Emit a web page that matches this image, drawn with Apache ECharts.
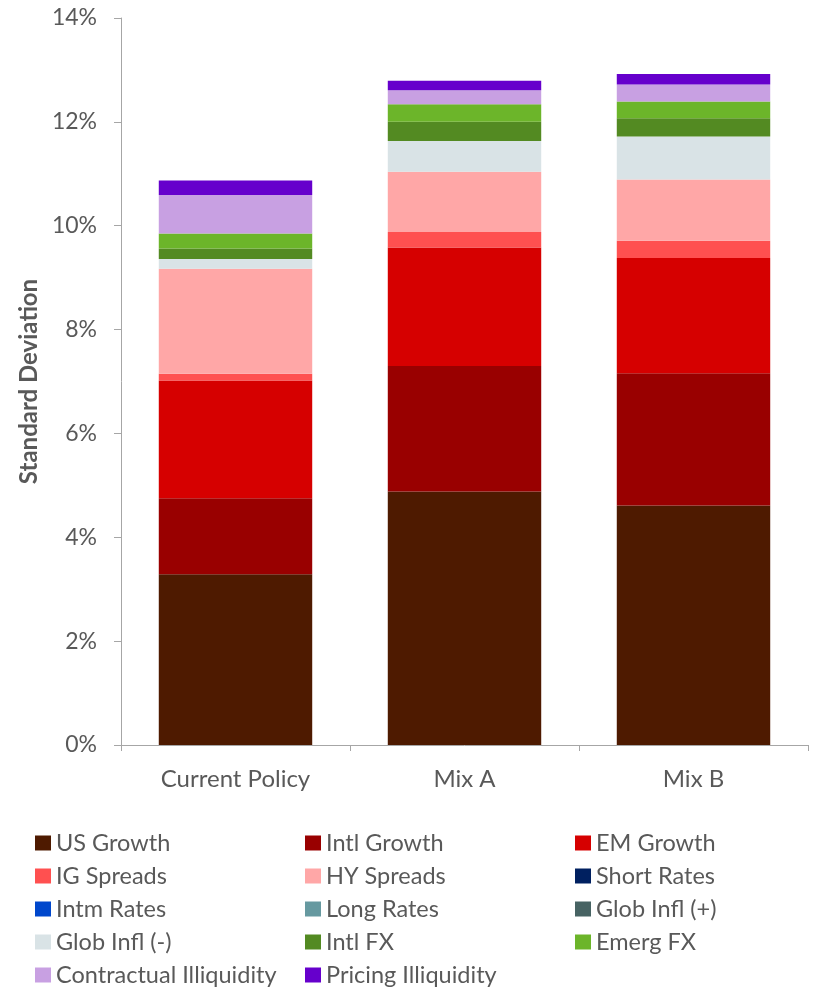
<!DOCTYPE html>
<html><head><meta charset="utf-8">
<script src="https://cdn.jsdelivr.net/npm/echarts@6/dist/echarts.min.js"></script>
<style>html,body{margin:0;padding:0;background:#fff}#c{width:819px;height:987px}</style>
</head><body><div id="c"></div>
<script>
const categories = ['Current Policy', 'Mix A', 'Mix B'];
const yTicks = [0, 2, 4, 6, 8, 10, 12, 14];
const usGrowth = [3.29, 4.88, 4.61];
const intlGrowth = [1.46, 2.42, 2.55];
const emGrowth = [2.27, 2.28, 2.22];
const igSpreads = [0.13, 0.30, 0.33];
const hySpreads = [2.02, 1.16, 1.18];
const shortRates = [0, 0, 0];
const intmRates = [0, 0, 0];
const longRates = [0, 0, 0];
const globInflPlus = [0, 0, 0];
const globInflMinus = [0.19, 0.59, 0.83];
const intlFX = [0.20, 0.37, 0.35];
const emergFX = [0.29, 0.34, 0.32];
const contractualIlliq = [0.74, 0.27, 0.33];
const pricingIlliq = [0.28, 0.18, 0.20];

const seriesDefs = [
  ['US Growth', usGrowth, '#4E1A00'],
  ['Intl Growth', intlGrowth, '#990000'],
  ['EM Growth', emGrowth, '#D60000'],
  ['IG Spreads', igSpreads, '#FF5050'],
  ['HY Spreads', hySpreads, '#FFA7A7'],
  ['Short Rates', shortRates, '#002060'],
  ['Intm Rates', intmRates, '#0047CC'],
  ['Long Rates', longRates, '#6699A0'],
  ['Glob Infl (+)', globInflPlus, '#476363'],
  ['Glob Infl (-)', globInflMinus, '#D9E3E6'],
  ['Intl FX', intlFX, '#538A22'],
  ['Emerg FX', emergFX, '#6CB52A'],
  ['Contractual Illiquidity', contractualIlliq, '#C8A0E2'],
  ['Pricing Illiquidity', pricingIlliq, '#6600CC']
];

const FONT = 'Lato';
const TXT = '#595959';
const FS = 23;
const legendCols = [[0,3,6,9,12],[1,4,7,10,13],[2,5,8,11]];
const legendLefts = [35, 305, 575];
const legends = legendCols.map((idxs, i) => ({
  orient: 'vertical',
  left: legendLefts[i],
  top: 831,
  height: 180,
  padding: 0,
  itemWidth: 16,
  itemHeight: 15,
  itemGap: 9,
  icon: 'rect',
  selectedMode: false,
  data: idxs.map(k => seriesDefs[k][0]),
  textStyle: {fontFamily: FONT, fontSize: 23.5, color: TXT, lineHeight: 23}
}));

const chart = echarts.init(document.getElementById('c'), null, {renderer: 'canvas'});
chart.setOption({
  animation: false,
  textStyle: {fontFamily: FONT},
  grid: {left: 121, top: 18, width: 687, height: 727, containLabel: false},
  legend: legends,
  xAxis: {
    type: 'category',
    data: categories,
    axisLine: {lineStyle: {color: '#A6A6A6', width: 1}},
    axisTick: {show: true, length: 6, lineStyle: {color: '#A6A6A6'}},
    axisLabel: {fontFamily: FONT, fontSize: 24, color: TXT, margin: 22}
  },
  yAxis: {
    type: 'value',
    min: yTicks[0],
    max: yTicks[yTicks.length - 1],
    interval: 2,
    name: 'Standard Deviation',
    nameLocation: 'middle',
    nameGap: 80,
    nameRotate: 90,
    nameTextStyle: {fontFamily: FONT, fontSize: 24, fontWeight: 'bold', color: TXT},
    axisLine: {show: true, lineStyle: {color: '#A6A6A6', width: 1}},
    axisTick: {show: true, length: 7, lineStyle: {color: '#A6A6A6'}},
    splitLine: {show: false},
    axisLabel: {fontFamily: FONT, fontSize: FS, color: TXT, margin: 24, formatter: '{value}%'}
  },
  series: seriesDefs.map(([name, data, color]) => ({
    name, type: 'bar', stack: 'total', data,
    barWidth: '67%',
    itemStyle: {color},
    emphasis: {disabled: true}
  }))
});
</script></body></html>
